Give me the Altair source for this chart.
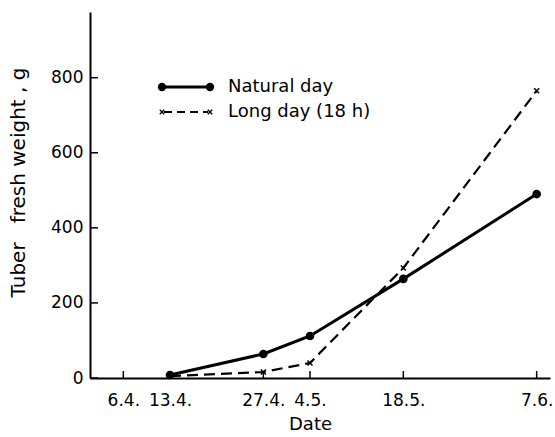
import altair as alt
import pandas as pd

# ---- data ----
series_names = ["Natural day", "Long day (18 h)"]
dates = ["2000-04-13", "2000-04-27", "2000-05-04", "2000-05-18", "2000-06-07"]
natural_day = [8, 64, 112, 264, 490]
long_day = [5, 16, 40, 293, 765]
x_tick_dates = ["2000-04-06", "2000-04-13", "2000-04-27", "2000-05-04", "2000-05-18", "2000-06-07"]
y_tick_values = [0, 200, 400, 600, 800]

FONT = "DejaVu Sans"
X_PATH = "M-1,-1L1,1M-1,1L1,-1"

nat_df = pd.DataFrame({"date": dates, "weight": natural_day})
long_df = pd.DataFrame({"date": dates, "weight": long_day})
xt_df = pd.DataFrame({"date": x_tick_dates})
yt_df = pd.DataFrame({"weight": y_tick_values})

xscale = alt.Scale(type="utc", domain=["2000-04-01", "2000-06-09"])
yscale = alt.Scale(domain=[0, 975], nice=False, zero=False)

x_enc = alt.X(
    "date:T",
    scale=xscale,
    axis=alt.Axis(
        values=x_tick_dates,
        format="%-d.%-m.",
        title="Date",
        titleX=220,
        titleY=46,
        titleAlign="center",
        titleBaseline="middle",
        titleFontSize=18,
        titleFontWeight="normal",
        ticks=False,
        tickSize=0,
        labelPadding=14,
        labelFontSize=17,
        grid=False,
        domainWidth=2,
        domainColor="black",
        labelColor="black",
        titleColor="black",
    ),
)
y_enc = alt.Y(
    "weight:Q",
    scale=yscale,
    axis=alt.Axis(
        values=y_tick_values,
        title="Tuber\u00a0\u00a0\u00a0fresh weight , g",
        titleX=-72,
        titleY=170,
        titleAngle=270,
        titleAlign="center",
        titleBaseline="middle",
        titleFontSize=20,
        titleFontWeight="normal",
        ticks=False,
        tickSize=0,
        labelPadding=7,
        labelFontSize=17,
        grid=False,
        domainWidth=2,
        domainColor="black",
        labelColor="black",
        titleColor="black",
    ),
)

nat_line = alt.Chart(nat_df).mark_line(color="black", strokeWidth=3).encode(x=x_enc, y=y_enc)
nat_pts = alt.Chart(nat_df).mark_point(filled=True, color="black", size=75, opacity=1, shape="circle").encode(
    x=alt.X("date:T", scale=xscale), y=alt.Y("weight:Q", scale=yscale)
)
long_line = alt.Chart(long_df).mark_line(color="black", strokeWidth=2.2, strokeDash=[11, 6]).encode(
    x=alt.X("date:T", scale=xscale), y=alt.Y("weight:Q", scale=yscale)
)
long_pts = alt.Chart(long_df).mark_point(shape=X_PATH, filled=False, color="black", size=25, strokeWidth=1.5, opacity=1).encode(
    x=alt.X("date:T", scale=xscale), y=alt.Y("weight:Q", scale=yscale)
)

# inward ticks
y_ticks = alt.Chart(yt_df).mark_rule(color="black", strokeWidth=1.5).encode(
    y=alt.Y("weight:Q", scale=yscale), x=alt.value(0), x2=alt.value(8)
)
x_ticks = alt.Chart(xt_df).mark_rule(color="black", strokeWidth=1.5).encode(
    x=alt.X("date:T", scale=xscale), y=alt.value(366), y2=alt.value(359)
)

# hand-drawn legend
leg1 = pd.DataFrame({"label": [series_names[0]]})
leg2 = pd.DataFrame({"label": [series_names[1]]})
leg_nat_line = alt.Chart(leg1).mark_rule(color="black", strokeWidth=3).encode(
    x=alt.value(72), x2=alt.value(120), y=alt.value(75)
)
leg_nat_p1 = alt.Chart(leg1).mark_point(filled=True, color="black", size=70, opacity=1).encode(
    x=alt.value(72), y=alt.value(75)
)
leg_nat_p2 = alt.Chart(leg1).mark_point(filled=True, color="black", size=70, opacity=1).encode(
    x=alt.value(120), y=alt.value(75)
)
leg_nat_txt = alt.Chart(leg1).mark_text(align="left", baseline="middle", font=FONT, fontSize=18, color="black").encode(
    x=alt.value(138), y=alt.value(75), text="label:N"
)
leg_long_line = alt.Chart(leg2).mark_rule(color="black", strokeWidth=2, strokeDash=[8, 5]).encode(
    x=alt.value(74), x2=alt.value(118), y=alt.value(100)
)
leg_long_p1 = alt.Chart(leg2).mark_point(shape=X_PATH, filled=False, color="black", size=20, strokeWidth=1.3, opacity=1).encode(
    x=alt.value(72), y=alt.value(100)
)
leg_long_p2 = alt.Chart(leg2).mark_point(shape=X_PATH, filled=False, color="black", size=20, strokeWidth=1.3, opacity=1).encode(
    x=alt.value(120), y=alt.value(100)
)
leg_long_txt = alt.Chart(leg2).mark_text(align="left", baseline="middle", font=FONT, fontSize=18, color="black").encode(
    x=alt.value(138), y=alt.value(100), text="label:N"
)

chart = alt.layer(
    nat_line, long_line, nat_pts, long_pts, y_ticks, x_ticks,
    leg_nat_line, leg_nat_p1, leg_nat_p2, leg_nat_txt,
    leg_long_line, leg_long_p1, leg_long_p2, leg_long_txt,
).properties(
    width=460,
    height=366,
    autosize=alt.AutoSizeParams(type="none"),
    padding={"left": 90, "top": 12, "right": 5, "bottom": 59},
    background="white",
).configure_view(stroke=None).configure_axis(
    labelFont=FONT, titleFont=FONT
)

chart.save("out.html", embed_options={"renderer": "svg", "actions": False})
